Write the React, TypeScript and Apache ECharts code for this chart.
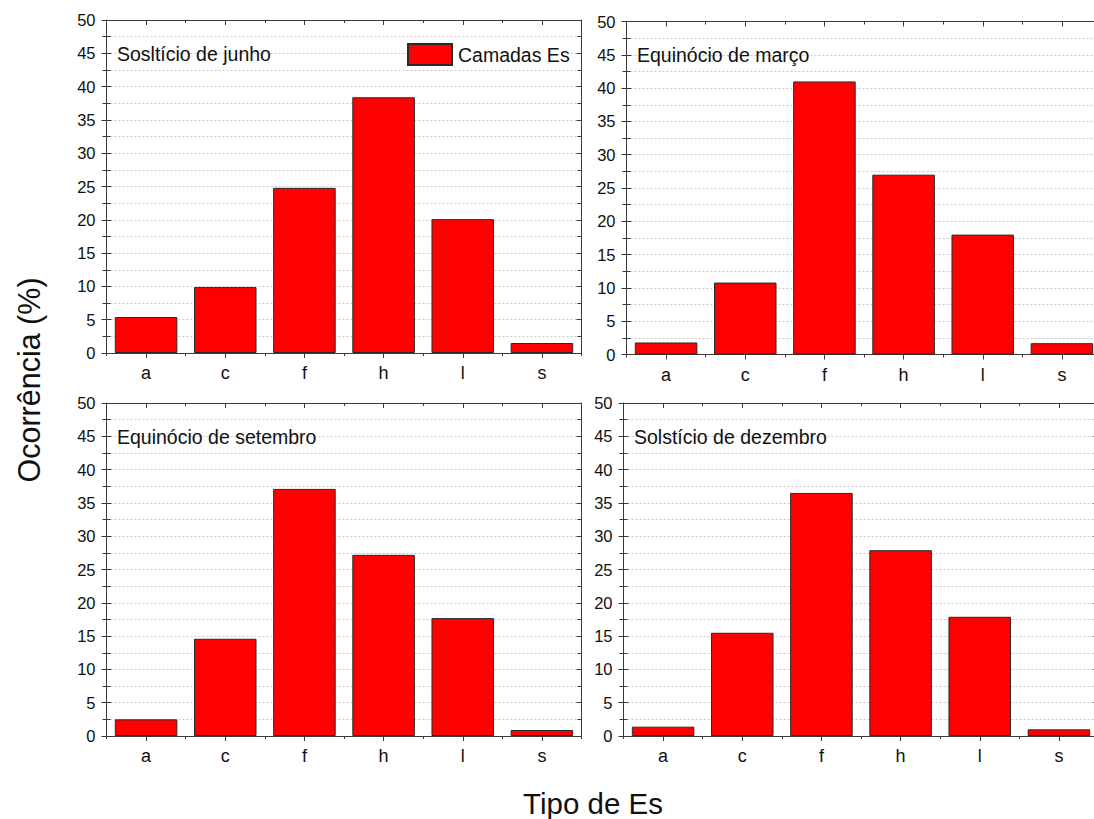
import React, { useEffect, useRef } from "react";
import * as echarts from "echarts";

const categories = ["a", "c", "f", "h", "l", "s"];
const junho = [5.4, 9.9, 24.8, 38.4, 20.1, 1.5];
const marco = [1.8, 10.8, 41.0, 27.0, 18.0, 1.7];
const setembro = [2.5, 14.6, 37.1, 27.2, 17.7, 0.9];
const dezembro = [1.4, 15.5, 36.5, 27.9, 17.9, 1.0];
const panelTitles = ["Sosltício de junho", "Equinócio de março", "Equinócio de setembro", "Solstício de dezembro"];
const seriesName = "Camadas Es";
const yTitle = "Ocorrência (%)";
const xTitle = "Tipo de Es";

const FONT = "'Liberation Sans', Arial, Helvetica, sans-serif";
const AXIS_COLOR = "#3a3a3a";

export default function App() {
  const ref = useRef<HTMLDivElement>(null);
  useEffect(() => {
    if (!ref.current) return;
    const chart = echarts.init(ref.current, undefined, { renderer: "svg" });
    const datasets = [junho, marco, setembro, dezembro];
    const grids = [
      { left: 106.5, top: 20, width: 475, height: 333 },
      { left: 626.5, top: 21.5, width: 475, height: 333 },
      { left: 106.5, top: 403, width: 475, height: 333 },
      { left: 623.5, top: 403, width: 475, height: 333 },
    ];
    const titlePos = [
      [117, 54],
      [637, 55],
      [117, 437],
      [634, 437],
    ];
    const xAxes: any[] = [];
    const yAxes: any[] = [];
    const series: any[] = [];
    const lineStyle = { color: AXIS_COLOR, width: 1 };
    const gridLine = { show: true, lineStyle: { color: "#c8c8c8", type: [2, 2], width: 1 } };
    grids.forEach((g, i) => {
      const base = { gridIndex: i, type: "category", data: categories };
      xAxes.push({
        ...base,
        position: "bottom",
        axisLine: { show: true, onZero: false, lineStyle },
        axisTick: { show: true, alignWithLabel: true, length: 5, lineStyle },
        axisLabel: { show: true, fontSize: 18, color: "#111", fontFamily: FONT, margin: 11 },
      });
      xAxes.push({
        ...base,
        position: "bottom",
        axisLine: { show: false, onZero: false },
        axisTick: { show: true, length: 3, lineStyle },
        axisLabel: { show: false },
      });
      xAxes.push({
        ...base,
        position: "top",
        axisLine: { show: true, onZero: false, lineStyle },
        axisTick: { show: true, inside: true, alignWithLabel: true, length: 5, lineStyle },
        axisLabel: { show: false },
      });
      xAxes.push({
        ...base,
        position: "top",
        axisLine: { show: false, onZero: false },
        axisTick: { show: true, inside: true, length: 3, lineStyle },
        axisLabel: { show: false },
      });
      const ybase = { gridIndex: i, type: "value", min: 0, max: 50, interval: 5 };
      yAxes.push({
        ...ybase,
        position: "left",
        axisLine: { show: true, onZero: false, lineStyle },
        axisTick: { show: true, length: 5, lineStyle },
        minorTick: { show: true, splitNumber: 2, length: 4, lineStyle },
        axisLabel: { show: true, fontSize: 16.5, color: "#111", fontFamily: FONT, margin: 11 },
        splitLine: gridLine,
        minorSplitLine: gridLine,
      });
      yAxes.push({
        ...ybase,
        position: "left",
        axisLine: { show: false, onZero: false },
        axisTick: { show: true, inside: true, length: 5, lineStyle },
        minorTick: { show: true, splitNumber: 2, length: 4, lineStyle },
        axisLabel: { show: false },
        splitLine: { show: false },
      });
      yAxes.push({
        ...ybase,
        position: "right",
        axisLine: { show: true, onZero: false, lineStyle },
        axisTick: { show: true, inside: true, length: 5, lineStyle },
        minorTick: { show: true, splitNumber: 2, length: 4, lineStyle },
        axisLabel: { show: false },
        splitLine: { show: false },
      });
      series.push({
        name: seriesName,
        type: "bar",
        xAxisIndex: i * 4,
        yAxisIndex: i * 3,
        data: datasets[i],
        barCategoryGap: "21%",
        itemStyle: { color: "#ff0000", borderColor: "#2a2a2a", borderWidth: 1 },
        z: 3,
      });
    });

    const graphics: any[] = panelTitles.map((t, i) => ({
      type: "text",
      x: titlePos[i][0],
      y: titlePos[i][1],
      style: { text: t, fontSize: 19.5, fontFamily: FONT, fill: "#111", verticalAlign: "middle", align: "left" },
      z: 10,
    }));
    graphics.push({
      type: "text",
      x: 29,
      y: 380,
      rotation: Math.PI / 2,
      style: { text: yTitle, fontSize: 30.5, fontFamily: FONT, fill: "#111", align: "center", verticalAlign: "middle" },
    });
    graphics.push({
      type: "text",
      x: 593,
      y: 803,
      style: { text: xTitle, fontSize: 29.5, fontFamily: FONT, fill: "#111", align: "center", verticalAlign: "middle" },
    });

    chart.setOption({
      animation: false,
      backgroundColor: "#ffffff",
      grid: grids.map((g) => ({ ...g, containLabel: false, outerBoundsMode: "none" })),
      xAxis: xAxes,
      yAxis: yAxes,
      series,
      legend: {
        data: [{ name: seriesName, icon: "rect" }],
        left: 407,
        top: 43,
        itemWidth: 44,
        itemHeight: 21,
        padding: 0,
        textStyle: { fontSize: 19.5, fontFamily: FONT, color: "#111", padding: [0, 0, 0, 1] },
        backgroundColor: "#ffffff",
      },
      graphic: graphics,
    });
    return () => chart.dispose();
  }, []);
  return (
    <div
      ref={ref}
      style={{ position: "absolute", left: 0, top: 0, width: 1094, height: 819, overflow: "hidden", background: "#fff" }}
    />
  );
}
